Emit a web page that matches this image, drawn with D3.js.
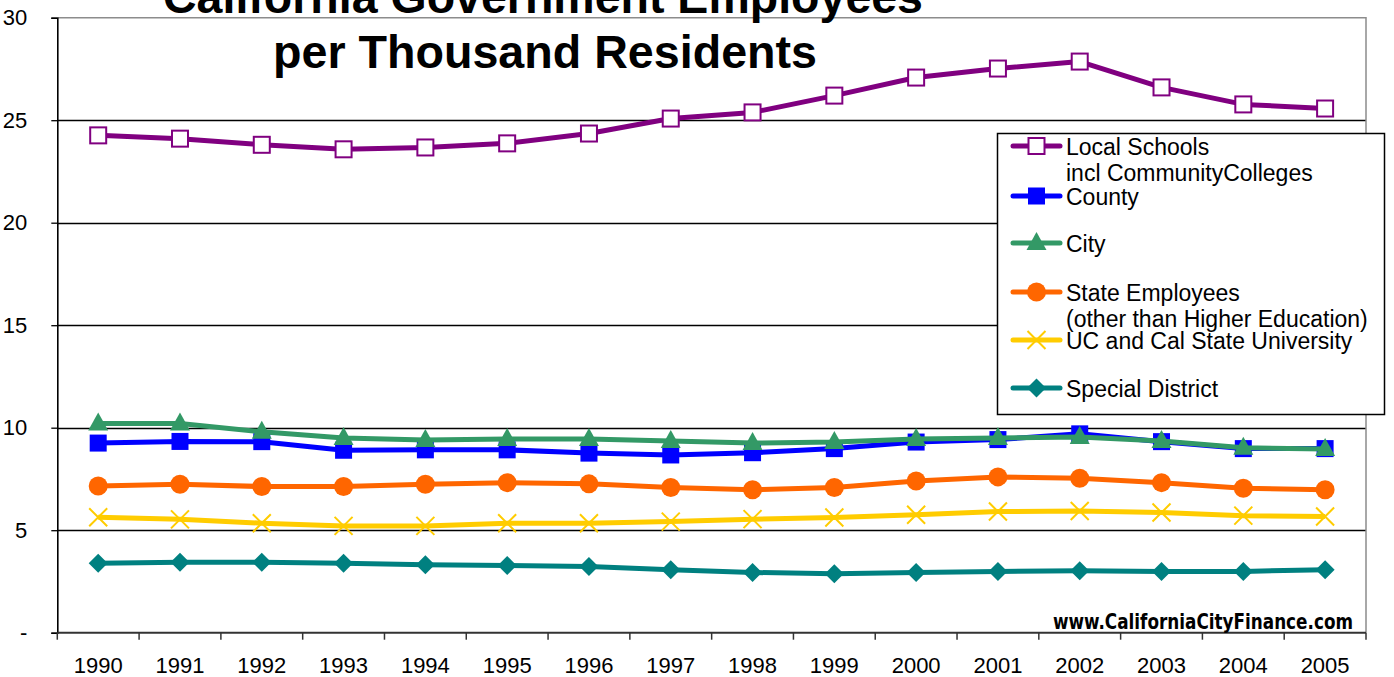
<!DOCTYPE html>
<html>
<head>
<meta charset="utf-8">
<script src="https://cdn.jsdelivr.net/npm/d3@7"></script>
<style>
  body { margin: 0; background: #fff; }
  svg { display: block; font-family: "Liberation Sans", Arial, sans-serif; }
</style>
</head>
<body>
<svg id="chart" width="1394" height="677"></svg>
<script>
// data
var years = ["1990","1991","1992","1993","1994","1995","1996","1997","1998","1999","2000","2001","2002","2003","2004","2005"];
var localSchools = [24.26, 24.1, 23.8, 23.58, 23.67, 23.87, 24.35, 25.08, 25.38, 26.2, 27.08, 27.52, 27.86, 26.6, 25.77, 25.57];
var county = [9.25, 9.33, 9.32, 8.9, 8.92, 8.92, 8.76, 8.67, 8.78, 8.98, 9.3, 9.42, 9.7, 9.32, 8.98, 8.98];
var city = [10.2, 10.2, 9.8, 9.5, 9.4, 9.45, 9.45, 9.35, 9.25, 9.3, 9.45, 9.5, 9.55, 9.35, 9.02, 8.96];
var stateEmp = [7.16, 7.24, 7.13, 7.13, 7.24, 7.32, 7.26, 7.08, 6.97, 7.08, 7.4, 7.6, 7.53, 7.32, 7.05, 6.97];
var ucCsu = [5.63, 5.53, 5.34, 5.21, 5.21, 5.34, 5.34, 5.42, 5.54, 5.62, 5.75, 5.91, 5.94, 5.86, 5.71, 5.67];
var specialDistrict = [3.39, 3.44, 3.44, 3.39, 3.31, 3.28, 3.23, 3.07, 2.94, 2.87, 2.94, 2.99, 3.02, 2.99, 2.99, 3.07];
var yTicks = [0, 5, 10, 15, 20, 25, 30];

var series = [
  {name: ["Local Schools", "incl CommunityColleges"], values: localSchools, color: "#800080", marker: "openSquare"},
  {name: ["County"], values: county, color: "#0000ff", marker: "square"},
  {name: ["City"], values: city, color: "#339966", marker: "triangle"},
  {name: ["State Employees", "(other than Higher Education)"], values: stateEmp, color: "#ff6600", marker: "circle"},
  {name: ["UC and Cal State University"], values: ucCsu, color: "#ffcc00", marker: "cross"},
  {name: ["Special District"], values: specialDistrict, color: "#008080", marker: "diamond"}
];

var svg = d3.select("#chart");
var plotLeft = 57.3, plotRight = 1366, plotTop = 17.7, plotBottom = 632.7;

var x = d3.scaleBand().domain(years).range([plotLeft, plotRight]).padding(0);
var y = d3.scaleLinear().domain([0, 30]).range([plotBottom, plotTop]);

// gridlines
svg.append("g").selectAll("line")
  .data(yTicks.filter(function(d) { return d > 0 && d < 30; }))
  .enter().append("line")
  .attr("x1", plotLeft).attr("x2", plotRight)
  .attr("y1", function(d) { return Math.round(y(d)) + 0.5; })
  .attr("y2", function(d) { return Math.round(y(d)) + 0.5; })
  .attr("stroke", "#000").attr("stroke-width", 1.3);

// plot area border (top + right) in grey
svg.append("path")
  .attr("d", "M" + plotLeft + "," + y(30) + "H" + plotRight + "V" + plotBottom)
  .attr("fill", "none").attr("stroke", "#8c8c8c").attr("stroke-width", 1.5);

// y axis
var yAxis = d3.axisLeft(y).tickValues(yTicks).tickSize(6).tickPadding(24)
  .tickFormat(function(d) { return d === 0 ? "-" : d; });
var gy = svg.append("g").attr("transform", "translate(" + plotLeft + ",0)").call(yAxis);
gy.select(".domain").attr("stroke", "#000").attr("stroke-width", 1.6);
gy.selectAll(".tick line").attr("stroke", "#000").attr("stroke-width", 1.3);
gy.selectAll(".tick text").attr("font-size", 22).attr("fill", "#000")
  .attr("font-family", "Liberation Sans, Arial, sans-serif");

// x axis line and ticks at band boundaries
var bounds = years.map(function(d) { return x(d); }).concat([plotRight]);
svg.append("line").attr("x1", plotLeft).attr("x2", plotRight).attr("y1", plotBottom).attr("y2", plotBottom)
  .attr("stroke", "#333").attr("stroke-width", 2);
svg.append("g").selectAll("line").data(bounds).enter().append("line")
  .attr("x1", function(d) { return d; }).attr("x2", function(d) { return d; })
  .attr("y1", plotBottom).attr("y2", plotBottom + 7)
  .attr("stroke", "#333").attr("stroke-width", 1.5);
svg.append("g").selectAll("text").data(years).enter().append("text")
  .attr("x", function(d) { return x(d) + x.bandwidth() / 2; })
  .attr("y", 673)
  .attr("text-anchor", "middle").attr("font-size", 22).attr("fill", "#000")
  .text(function(d) { return d; });

// markers
function drawMarker(g, type, color, cx, cy) {
  if (type === "openSquare") {
    g.append("rect").attr("x", cx - 8).attr("y", cy - 8).attr("width", 16).attr("height", 16)
      .attr("fill", "#fff").attr("stroke", color).attr("stroke-width", 2);
  } else if (type === "square") {
    g.append("rect").attr("x", cx - 8.5).attr("y", cy - 8.5).attr("width", 17).attr("height", 17)
      .attr("fill", color);
  } else if (type === "triangle") {
    g.append("path").attr("d", "M" + cx + "," + (cy - 11) + "L" + (cx + 10) + "," + (cy + 7) + "L" + (cx - 10) + "," + (cy + 7) + "Z")
      .attr("fill", color);
  } else if (type === "circle") {
    g.append("circle").attr("cx", cx).attr("cy", cy).attr("r", 9.5).attr("fill", color);
  } else if (type === "cross") {
    g.append("path").attr("d", "M" + (cx - 9) + "," + (cy - 9) + "L" + (cx + 9) + "," + (cy + 9) + "M" + (cx - 9) + "," + (cy + 9) + "L" + (cx + 9) + "," + (cy - 9))
      .attr("stroke", color).attr("stroke-width", 2).attr("fill", "none");
  } else if (type === "diamond") {
    g.append("path").attr("d", "M" + cx + "," + (cy - 9.5) + "L" + (cx + 9.5) + "," + cy + "L" + cx + "," + (cy + 9.5) + "L" + (cx - 9.5) + "," + cy + "Z")
      .attr("fill", color);
  }
}

var line = d3.line()
  .x(function(d, i) { return x(years[i]) + x.bandwidth() / 2; })
  .y(function(d) { return y(d); });

series.forEach(function(s) {
  var g = svg.append("g");
  g.append("path").attr("d", line(s.values)).attr("fill", "none")
    .attr("stroke", s.color).attr("stroke-width", 5).attr("stroke-linejoin", "round");
  s.values.forEach(function(v, i) {
    drawMarker(g, s.marker, s.color, x(years[i]) + x.bandwidth() / 2, y(v));
  });
});

// watermark
svg.append("text").attr("x", 1053).attr("y", 629)
  .attr("font-family", "'Comic Sans MS', 'DejaVu Sans Condensed', sans-serif")
  .attr("font-weight", "bold").attr("font-size", 21)
  .attr("textLength", 300).attr("lengthAdjust", "spacingAndGlyphs")
  .attr("fill", "#000").text("www.CaliforniaCityFinance.com");

// title
var title = svg.append("g").attr("font-weight", "bold").attr("font-size", 47).attr("fill", "#000");
title.append("text").attr("x", 163).attr("y", 13)
  .attr("textLength", 760).attr("lengthAdjust", "spacingAndGlyphs")
  .text("California Government Employees");
title.append("text").attr("x", 273).attr("y", 68)
  .attr("textLength", 544).attr("lengthAdjust", "spacingAndGlyphs")
  .text("per Thousand Residents");

// legend
var legend = svg.append("g");
legend.append("rect").attr("x", 997.5).attr("y", 133.5).attr("width", 387).attr("height", 281)
  .attr("fill", "#fff").attr("stroke", "#000").attr("stroke-width", 1.5);
var legendY = [146, 196, 243, 292, 340, 388];
series.forEach(function(s, i) {
  var cy = legendY[i];
  legend.append("line").attr("x1", 1013).attr("x2", 1060).attr("y1", cy).attr("y2", cy)
    .attr("stroke", s.color).attr("stroke-width", 5).attr("stroke-linecap", "round");
  drawMarker(legend, s.marker, s.color, 1036.5, cy);
  s.name.forEach(function(t, j) {
    legend.append("text").attr("x", 1066).attr("y", cy + 9 + j * 26)
      .attr("font-size", 23).attr("fill", "#000").text(t);
  });
});
</script>
</body>
</html>
